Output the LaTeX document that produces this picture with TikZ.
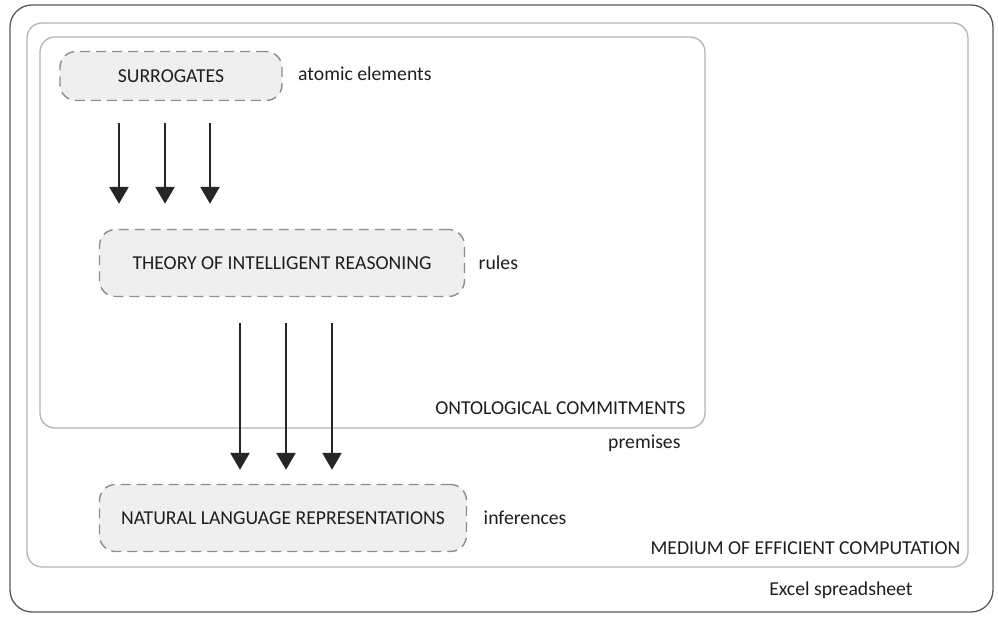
\documentclass[tikz,border=0pt]{standalone}
\usepackage{fontspec}
\setmainfont{Carlito}
\usepackage{tikz}
\usetikzlibrary{arrows.meta,positioning}
\definecolor{framegray}{HTML}{B4B4B4}
\definecolor{outergray}{HTML}{5A5A5A}
\definecolor{boxfill}{HTML}{EFEFEF}
\definecolor{dashgray}{HTML}{8C8C8C}
\definecolor{textgray}{HTML}{1E1E1E}

\begin{document}
\begin{tikzpicture}[
        x=1pt, y=-1pt,
        every node/.style={font=\fontsize{19.7}{23}\selectfont, text=textgray},
        frame/.style={draw=framegray, line width=1.3pt, rounded corners=15pt},
        conceptbox/.style={rectangle, draw=dashgray, fill=boxfill, line width=1.4pt,
            dash pattern=on 10pt off 6pt, rounded corners=16pt, align=center},
        arrow/.style={-{Triangle[length=17pt,width=19pt]}, line width=2.6pt, draw=black!85}
    ]
        \useasboundingbox (0,0) rectangle (998,617);

        % Frames
        \draw[draw=outergray, line width=1.3pt, rounded corners=22pt] (10,5) rectangle (993,612);
        \draw[frame] (27,23) rectangle (968,567);
        \draw[frame] (40,37) rectangle (705,428);

        % Concepts
        \node[conceptbox, minimum width=222pt, minimum height=49pt] (surr) at (171,76) {SURROGATES};
        \node[conceptbox, minimum width=365pt, minimum height=67pt] (theory) at (282,263) {THEORY OF INTELLIGENT REASONING};
        \node[conceptbox, minimum width=367pt, minimum height=67pt] (natlang) at (283,518) {NATURAL LANGUAGE REPRESENTATIONS};

        % Labels
        \node[right=12pt of surr, yshift=2pt] (atomic) {atomic elements};
        \node[right=10pt of theory] (rules) {rules};
        \node[right=13pt of natlang] (infer) {inferences};
        \node[anchor=east] (onto) at (689,408) {ONTOLOGICAL COMMITMENTS};
        \node[anchor=east] (prem) at (684,443) {premises};
        \node[anchor=east] (medium) at (964,548) {MEDIUM OF EFFICIENT COMPUTATION};
        \node[anchor=east] (excel) at (916,590) {Excel spreadsheet};

        % Arrows
        \foreach \dx in {-52,-6,39}
            \draw[arrow, shorten <=22pt, shorten >=25pt] ([xshift=\dx pt]surr.south) -- ([xshift=\dx pt]surr.south |- theory.north);
        \foreach \dx in {-42,4,50}
            \draw[arrow, shorten <=26pt, shorten >=14pt] ([xshift=\dx pt]theory.south) -- ([xshift=\dx pt]theory.south |- natlang.north);

    \end{tikzpicture}
\end{document}
